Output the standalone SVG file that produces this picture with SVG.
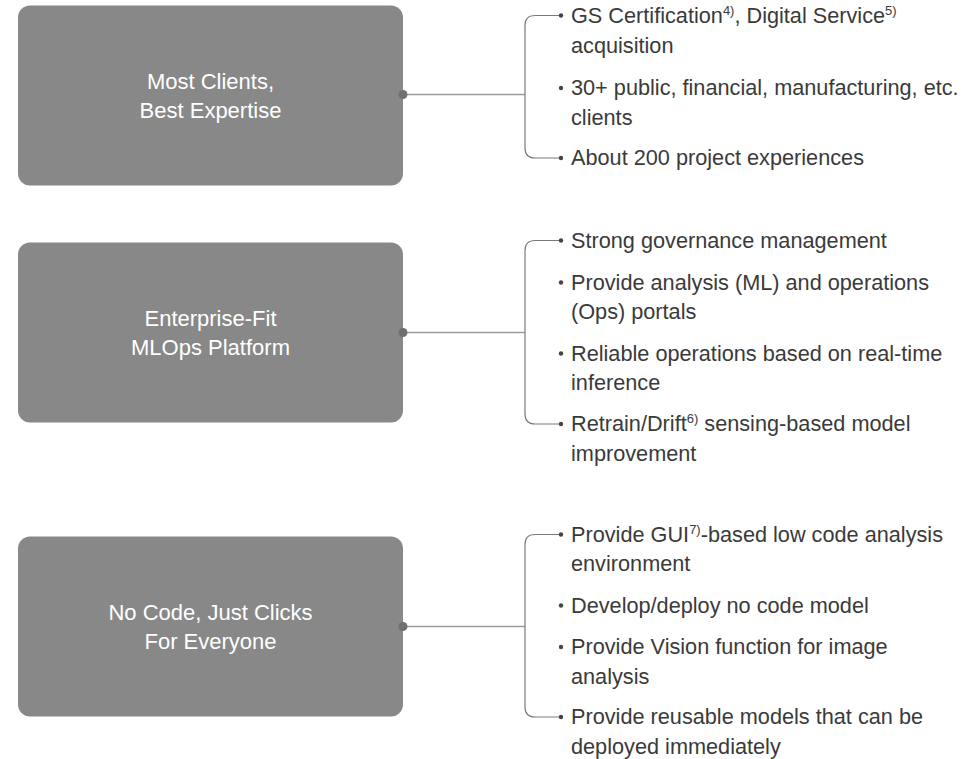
<svg xmlns="http://www.w3.org/2000/svg" width="979" height="759" viewBox="0 0 979 759">
<style>
.box{fill:#888888}
.lbl{font-family:"Liberation Sans",Arial,sans-serif;font-size:22px;fill:#ffffff;text-anchor:middle}
.item{font-family:"Liberation Sans",Arial,sans-serif;font-size:21.7px;fill:#3a3a3a}
.sup{font-size:13px}
.stem{stroke:#9a9a9a;stroke-width:1.5;fill:none}
.brk{stroke:#7a7a7a;stroke-width:1.2;fill:none}
.knob{fill:#707070}
.bul{fill:#444444}
</style>
<rect width="979" height="759" fill="#ffffff"/>
<g id="connectors">
<path class="stem" d="M403 94.5 H525"/>
<path class="brk" d="M561 15.5 H535 Q525 15.5 525 25.5 V148 Q525 158 535 158 H561"/>
<path class="stem" d="M403 332.5 H525"/>
<path class="brk" d="M561 240.5 H535 Q525 240.5 525 250.5 V414 Q525 424 535 424 H561"/>
<path class="stem" d="M403 626.5 H525"/>
<path class="brk" d="M561 534.5 H535 Q525 534.5 525 544.5 V707 Q525 717 535 717 H561"/>
</g>
<g id="node1">
<rect class="box" x="18" y="5.5" width="385" height="180" rx="12"/>
<text class="lbl" x="210.5" y="88.5">Most Clients,</text>
<text class="lbl" x="210.5" y="118">Best Expertise</text>
<circle class="knob" cx="403" cy="94.5" r="4.5"/>
</g>
<g id="list1">
<circle class="bul" cx="561" cy="15.5" r="2.2"/>
<text class="item" x="571" y="22.5">GS Certification<tspan class="sup" dy="-8">4)</tspan><tspan dy="8">, Digital Service</tspan><tspan class="sup" dy="-8">5)</tspan></text>
<text class="item" x="571" y="52.5">acquisition</text>
<circle class="bul" cx="561" cy="88" r="2.2"/>
<text class="item" x="571" y="95">30+ public, financial, manufacturing, etc.</text>
<text class="item" x="571" y="124.5">clients</text>
<circle class="bul" cx="561" cy="158" r="2.2"/>
<text class="item" x="571" y="165">About 200 project experiences</text>
</g>
<g id="node2">
<rect class="box" x="18" y="242.5" width="385" height="180" rx="12"/>
<text class="lbl" x="210.5" y="325.5">Enterprise-Fit</text>
<text class="lbl" x="210.5" y="355">MLOps Platform</text>
<circle class="knob" cx="403" cy="332.5" r="4.5"/>
</g>
<g id="list2">
<circle class="bul" cx="561" cy="240.5" r="2.2"/>
<text class="item" x="571" y="247.5">Strong governance management</text>
<circle class="bul" cx="561" cy="282.5" r="2.2"/>
<text class="item" x="571" y="289.5">Provide analysis (ML) and operations</text>
<text class="item" x="571" y="319">(Ops) portals</text>
<circle class="bul" cx="561" cy="353.5" r="2.2"/>
<text class="item" x="571" y="360.5">Reliable operations based on real-time</text>
<text class="item" x="571" y="390">inference</text>
<circle class="bul" cx="561" cy="424" r="2.2"/>
<text class="item" x="571" y="431">Retrain/Drift<tspan class="sup" dy="-8">6)</tspan><tspan dy="8"> sensing-based model</tspan></text>
<text class="item" x="571" y="460.5">improvement</text>
</g>
<g id="node3">
<rect class="box" x="18" y="536.5" width="385" height="180" rx="12"/>
<text class="lbl" x="210.5" y="619.5">No Code, Just Clicks</text>
<text class="lbl" x="210.5" y="649">For Everyone</text>
<circle class="knob" cx="403" cy="626.5" r="4.5"/>
</g>
<g id="list3">
<circle class="bul" cx="561" cy="534.5" r="2.2"/>
<text class="item" x="571" y="541.5">Provide GUI<tspan class="sup" dy="-8">7)</tspan><tspan dy="8">-based low code analysis</tspan></text>
<text class="item" x="571" y="571">environment</text>
<circle class="bul" cx="561" cy="605.5" r="2.2"/>
<text class="item" x="571" y="612.5">Develop/deploy no code model</text>
<circle class="bul" cx="561" cy="647" r="2.2"/>
<text class="item" x="571" y="654">Provide Vision function for image</text>
<text class="item" x="571" y="683.5">analysis</text>
<circle class="bul" cx="561" cy="717" r="2.2"/>
<text class="item" x="571" y="724">Provide reusable models that can be</text>
<text class="item" x="571" y="753.5">deployed immediately</text>
</g>
</svg>
